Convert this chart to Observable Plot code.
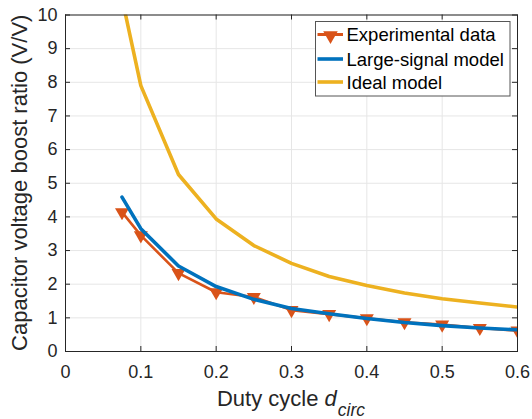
<!DOCTYPE html>
<html><head><meta charset="utf-8">
<script src="https://cdn.jsdelivr.net/npm/d3@7"></script>
<script src="https://cdn.jsdelivr.net/npm/@observablehq/plot@0.6"></script>
<style>body{margin:0;background:#fff} #chart{width:532px;height:419px}</style>
</head><body><div id="chart"></div>
<script>
// ---- data ----
const duty = [0.075, 0.1, 0.15, 0.2, 0.25, 0.3, 0.35, 0.4, 0.45, 0.5, 0.55, 0.6];
const experimental = [4.14, 3.45, 2.33, 1.76, 1.62, 1.23, 1.11, 0.99, 0.87, 0.80, 0.70, 0.62];
const largeSignal = [4.59, 3.65, 2.54, 1.93, 1.55, 1.28, 1.12, 0.98, 0.86, 0.77, 0.70, 0.645];
const ideal = [10.5, 7.9, 5.26, 3.94, 3.15, 2.62, 2.23, 1.96, 1.74, 1.57, 1.44, 1.32];
const xTicks = [0, 0.1, 0.2, 0.3, 0.4, 0.5, 0.6];
const xTickLabels = ["0", "0.1", "0.2", "0.3", "0.4", "0.5", "0.6"];
const yTicks = [0, 1, 2, 3, 4, 5, 6, 7, 8, 9, 10];
const seriesNames = ["Experimental data", "Large-signal model", "Ideal model"];
const colors = ["#D95319", "#0072BD", "#EDB120"];
const yTitle = "Capacitor voltage boost ratio (V/V)";
const xTitle = "Duty cycle ";
const xTitleVar = "d";
const xTitleSub = "circ";

const rows = vals => duty.map((d, i) => ({d, v: vals[i]}));

const W = 532, H = 419, mL = 65, mR = 15, mT = 14.5, mB = 68;
const pw = W - mL - mR, ph = H - mT - mB;
const font = '"Liberation Sans", Arial, Helvetica, sans-serif';
const ink = "#262626";
const tick = 5;

const chart = Plot.plot({
  width: W, height: H,
  marginLeft: mL, marginRight: mR, marginTop: mT, marginBottom: mB,
  style: {fontFamily: font, fontSize: "18px", color: ink, background: "#fff", overflow: "visible"},
  x: {domain: [0, 0.6], label: null, ticks: xTicks, tickSize: 0, tickPadding: 14, tickFormat: d => xTickLabels[xTicks.indexOf(d)]},
  y: {domain: [0, 10], label: null, ticks: yTicks, tickSize: 0, tickPadding: 8, tickFormat: d => String(d)},
  marks: [
    Plot.ruleX(xTicks, {stroke: "#e6e6e6", strokeWidth: 1}),
    Plot.ruleY(yTicks, {stroke: "#e6e6e6", strokeWidth: 1}),
    Plot.line(rows(experimental), {x: "d", y: "v", stroke: colors[0], strokeWidth: 2.6, clip: true}),
    Plot.dot(rows(experimental), {x: "d", y: "v", symbol: "triangle", rotate: 180, r: 5.2, fill: colors[0], stroke: null, clip: true}),
    Plot.line(rows(largeSignal), {x: "d", y: "v", stroke: colors[1], strokeWidth: 3.6, clip: true}),
    Plot.line(rows(ideal), {x: "d", y: "v", stroke: colors[2], strokeWidth: 3.6, clip: true}),
    // inward ticks
    Plot.ruleX(xTicks, {stroke: ink, insetTop: ph - tick}),
    Plot.ruleX(xTicks, {stroke: ink, insetBottom: ph - tick}),
    Plot.ruleY(yTicks, {stroke: ink, insetRight: pw - tick}),
    Plot.ruleY(yTicks, {stroke: ink, insetLeft: pw - tick}),
    Plot.frame({stroke: ink, strokeWidth: 1})
  ]
});
document.getElementById("chart").appendChild(chart);

const svg = d3.select(chart);
// axis titles
svg.append("text")
  .attr("transform", `translate(26.5,${mT + ph / 2}) rotate(-90)`)
  .attr("text-anchor", "middle")
  .attr("font-family", font).attr("font-size", 22).attr("fill", ink)
  .text(yTitle);
const xt = svg.append("text")
  .attr("x", mL + pw / 2).attr("y", 406)
  .attr("text-anchor", "middle")
  .attr("font-family", font).attr("font-size", 22).attr("fill", ink);
xt.append("tspan").text(xTitle);
xt.append("tspan").attr("font-style", "italic").text(xTitleVar);
xt.append("tspan").attr("font-style", "italic").attr("font-size", 17.5).attr("dy", 10).attr("dx", 1).text(xTitleSub);

// legend
const lg = svg.append("g").attr("font-family", font).attr("font-size", 18.5).attr("text-anchor", "start");
lg.append("rect").attr("x", 315.5).attr("y", 21.5).attr("width", 194.5).attr("height", 74.5)
  .attr("fill", "#fff").attr("stroke", "#555").attr("stroke-width", 1);
const rowY = [34.5, 59, 82];
seriesNames.forEach((name, i) => {
  const y = rowY[i];
  lg.append("line").attr("x1", 317.5).attr("x2", 343).attr("y1", y).attr("y2", y)
    .attr("stroke", colors[i]).attr("stroke-width", i === 0 ? 3 : 3.6);
  if (i === 0) {
    lg.append("path").attr("d", d3.symbol(d3.symbolTriangle, 5.4 * 5.4 * Math.PI)())
      .attr("transform", `translate(330.5,${y + 1}) rotate(180)`).attr("fill", colors[0]);
  }
  lg.append("text").attr("x", 346.5).attr("y", y).attr("dy", "0.36em").attr("text-anchor", "start").attr("fill", "#000").text(name);
});
</script>
</body></html>
